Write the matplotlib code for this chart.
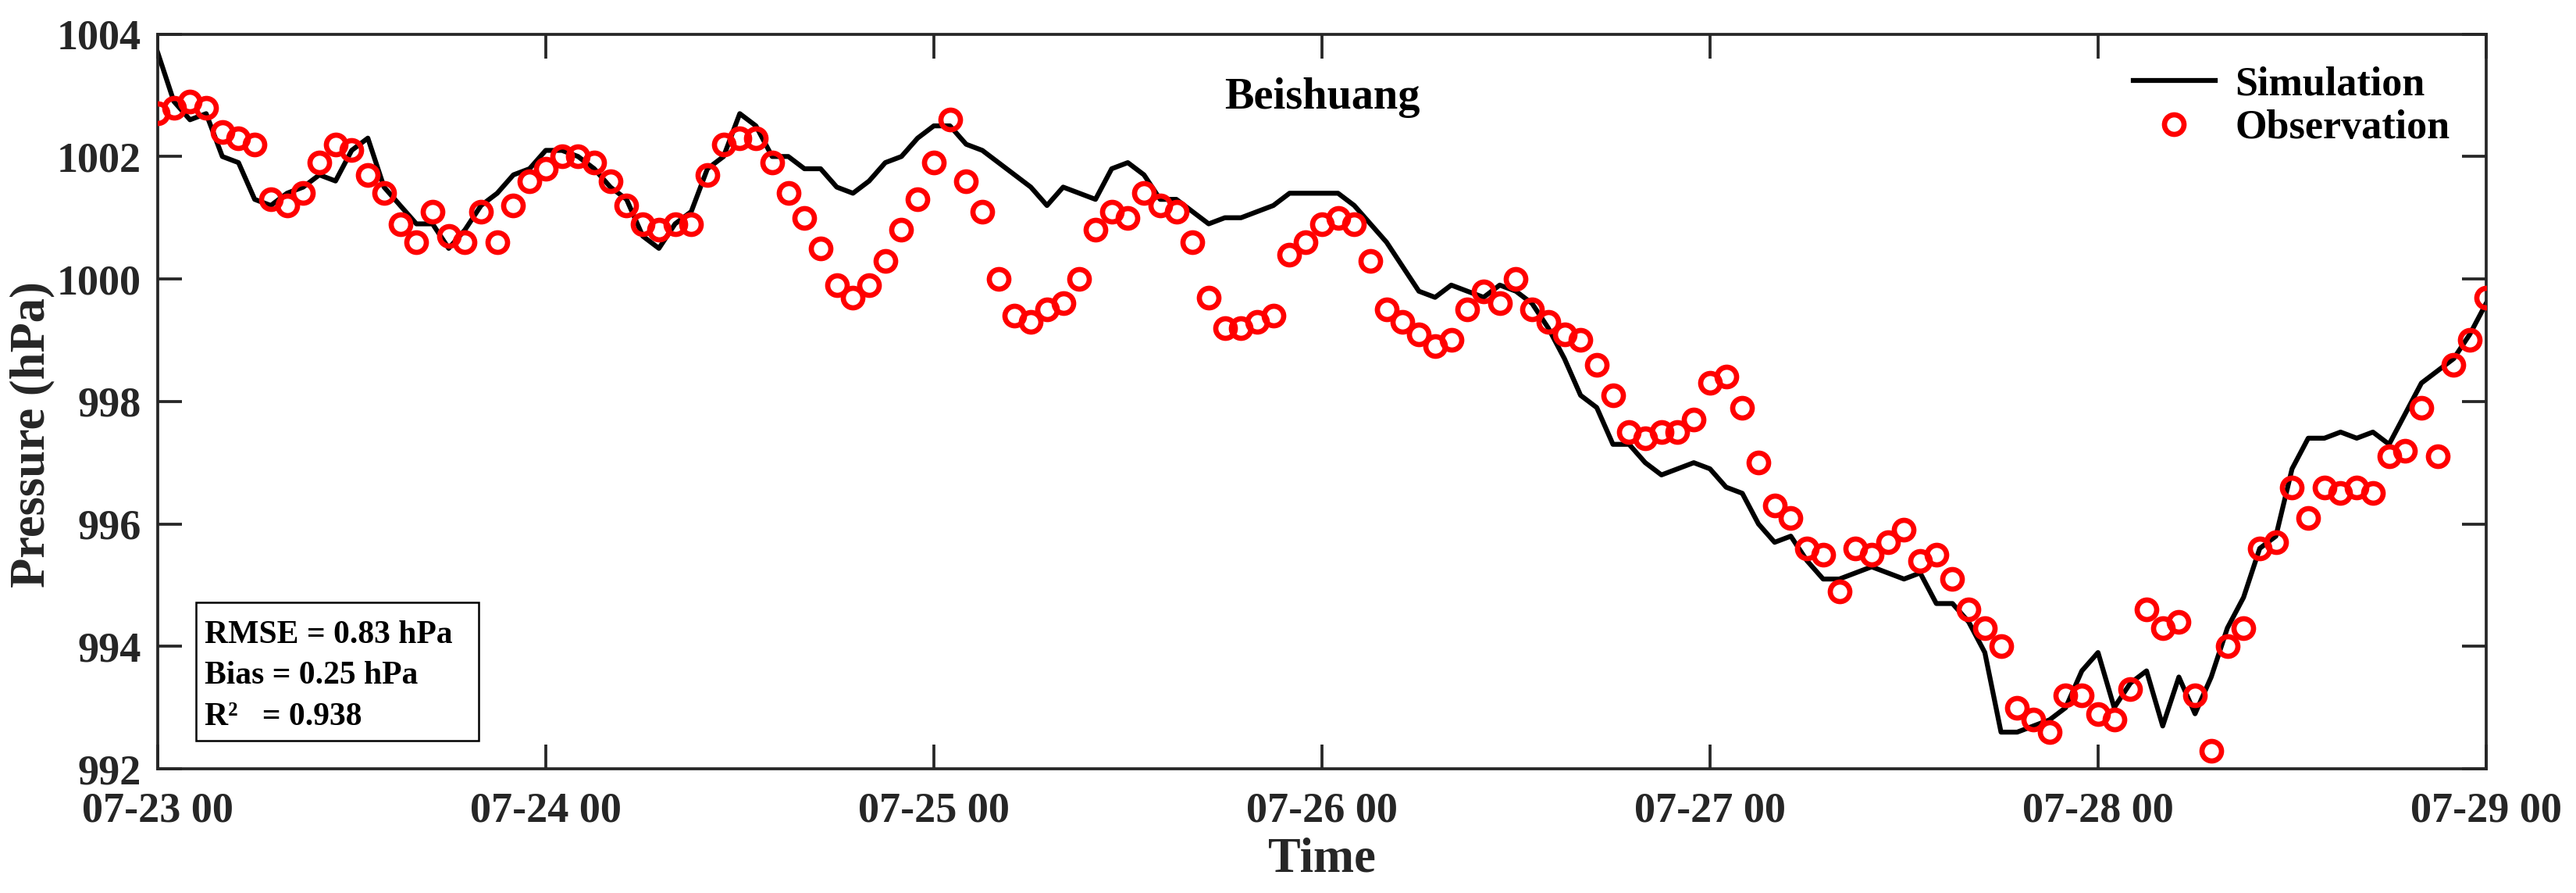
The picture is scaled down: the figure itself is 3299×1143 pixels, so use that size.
"""
Beishuang surface pressure: simulation vs observation (hourly, 07-23 00 to 07-29 00).
Writes out.png.
"""
import matplotlib
matplotlib.use("Agg")
import matplotlib.pyplot as plt
from matplotlib.patches import Rectangle

# hours since 07-23 00
hours = list(range(145))

sim = [1003.7, 1002.9, 1002.6, 1002.7, 1002.0, 1001.9, 1001.3, 1001.2, 1001.4, 1001.5,
       1001.7, 1001.6, 1002.1, 1002.3, 1001.5, 1001.2, 1000.9, 1000.9, 1000.5, 1000.8,
       1001.2, 1001.4, 1001.7, 1001.8, 1002.1, 1002.1, 1002.0, 1001.8, 1001.5, 1001.3,
       1000.7, 1000.5, 1000.9, 1001.1, 1001.8, 1002.0, 1002.7, 1002.5, 1002.0, 1002.0,
       1001.8, 1001.8, 1001.5, 1001.4, 1001.6, 1001.9, 1002.0, 1002.3, 1002.5, 1002.5,
       1002.2, 1002.1, 1001.9, 1001.7, 1001.5, 1001.2, 1001.5, 1001.4, 1001.3, 1001.8,
       1001.9, 1001.7, 1001.3, 1001.3, 1001.1, 1000.9, 1001.0, 1001.0, 1001.1, 1001.2,
       1001.4, 1001.4, 1001.4, 1001.4, 1001.2, 1000.9, 1000.6, 1000.2, 999.8, 999.7,
       999.9, 999.8, 999.7, 999.9, 999.8, 999.6, 999.2, 998.7, 998.1, 997.9,
       997.3, 997.3, 997.0, 996.8, 996.9, 997.0, 996.9, 996.6, 996.5, 996.0,
       995.7, 995.8, 995.4, 995.1, 995.1, 995.2, 995.3, 995.2, 995.1, 995.2,
       994.7, 994.7, 994.4, 993.9, 992.6, 992.6, 992.7, 992.8, 993.0, 993.6,
       993.9, 993.0, 993.4, 993.6, 992.7, 993.5, 992.9, 993.5, 994.3, 994.8,
       995.6, 995.8, 996.9, 997.4, 997.4, 997.5, 997.4, 997.5, 997.3, 997.8,
       998.3, 998.5, 998.7, 999.1, 999.6]

obs = [1002.7, 1002.8, 1002.9, 1002.8, 1002.4, 1002.3, 1002.2, 1001.3, 1001.2, 1001.4,
       1001.9, 1002.2, 1002.1, 1001.7, 1001.4, 1000.9, 1000.6, 1001.1, 1000.7, 1000.6,
       1001.1, 1000.6, 1001.2, 1001.6, 1001.8, 1002.0, 1002.0, 1001.9, 1001.6, 1001.2,
       1000.9, 1000.8, 1000.9, 1000.9, 1001.7, 1002.2, 1002.3, 1002.3, 1001.9, 1001.4,
       1001.0, 1000.5, 999.9, 999.7, 999.9, 1000.3, 1000.8, 1001.3, 1001.9, 1002.6,
       1001.6, 1001.1, 1000.0, 999.4, 999.3, 999.5, 999.6, 1000.0, 1000.8, 1001.1,
       1001.0, 1001.4, 1001.2, 1001.1, 1000.6, 999.7, 999.2, 999.2, 999.3, 999.4,
       1000.4, 1000.6, 1000.9, 1001.0, 1000.9, 1000.3, 999.5, 999.3, 999.1, 998.9,
       999.0, 999.5, 999.8, 999.6, 1000.0, 999.5, 999.3, 999.1, 999.0, 998.6,
       998.1, 997.5, 997.4, 997.5, 997.5, 997.7, 998.3, 998.4, 997.9, 997.0,
       996.3, 996.1, 995.6, 995.5, 994.9, 995.6, 995.5, 995.7, 995.9, 995.4,
       995.5, 995.1, 994.6, 994.3, 994.0, 993.0, 992.8, 992.6, 993.2, 993.2,
       992.9, 992.8, 993.3, 994.6, 994.3, 994.4, 993.2, 992.3, 994.0, 994.3,
       995.6, 995.7, 996.6, 996.1, 996.6, 996.5, 996.6, 996.5, 997.1, 997.2,
       997.9, 997.1, 998.6, 999.0, 999.7]

xtick_pos = [0, 24, 48, 72, 96, 120, 144]
xtick_labels = ["07-23 00", "07-24 00", "07-25 00", "07-26 00",
                "07-27 00", "07-28 00", "07-29 00"]
ytick_pos = [992, 994, 996, 998, 1000, 1002, 1004]

stats_lines = ["RMSE = 0.83 hPa", "Bias = 0.25 hPa", "R\u00b2   = 0.938"]

plt.rcParams["font.family"] = "Liberation Serif"
plt.rcParams["font.weight"] = "bold"
AX_COL = "#262626"

fig = plt.figure(figsize=(3299 / 300, 1143 / 300), dpi=300)
ax = fig.add_axes([0.0612, 0.139, 0.9039, 0.8229])

ax.plot(hours, sim, color="black", lw=1.5, label="Simulation", zorder=2)
ax.plot(hours, obs, ls="none", marker="o", ms=6.0, mfc="none", mec="red",
        mew=1.6, label="Observation", zorder=3)

ax.set_xlim(0, 144)
ax.set_ylim(992, 1004)
ax.set_xticks(xtick_pos)
ax.set_xticklabels(xtick_labels)
ax.set_yticks(ytick_pos)
ax.tick_params(direction="in", length=7.5, width=0.9, colors=AX_COL,
               labelsize=13, top=True, right=True)
ax.tick_params(axis="x", pad=7)
ax.tick_params(axis="y", pad=5)
for s in ax.spines.values():
    s.set_color(AX_COL)
    s.set_linewidth(0.9)

ax.set_xlabel("Time", fontsize=15, fontweight="bold", color=AX_COL, labelpad=2)
ax.set_ylabel("Pressure (hPa)", fontsize=15, fontweight="bold", color=AX_COL)
ax.yaxis.set_label_coords(-0.044, 0.455)

ax.text(0.5, 0.913, "Beishuang", transform=ax.transAxes, ha="center", va="center",
        fontsize=13.5, fontweight="bold")

ax.legend(loc="upper right", bbox_to_anchor=(0.995, 0.99), frameon=False,
          fontsize=12.5, handlelength=2.0, handletextpad=0.5, labelspacing=0.15,
          borderaxespad=0.2)

# stats box (bottom left)
ax.add_patch(Rectangle((0.0164, 0.0386), 0.1213, 0.1884, transform=ax.transAxes,
                       fill=False, ec="black", lw=0.6, zorder=4))
for line, yb in zip(stats_lines, [0.171, 0.116, 0.0596]):
    ax.text(0.0203, yb, line, transform=ax.transAxes, ha="left", va="baseline",
            fontsize=10, fontweight="bold", zorder=5)

fig.savefig("out.png", dpi=300)
plt.close(fig)
